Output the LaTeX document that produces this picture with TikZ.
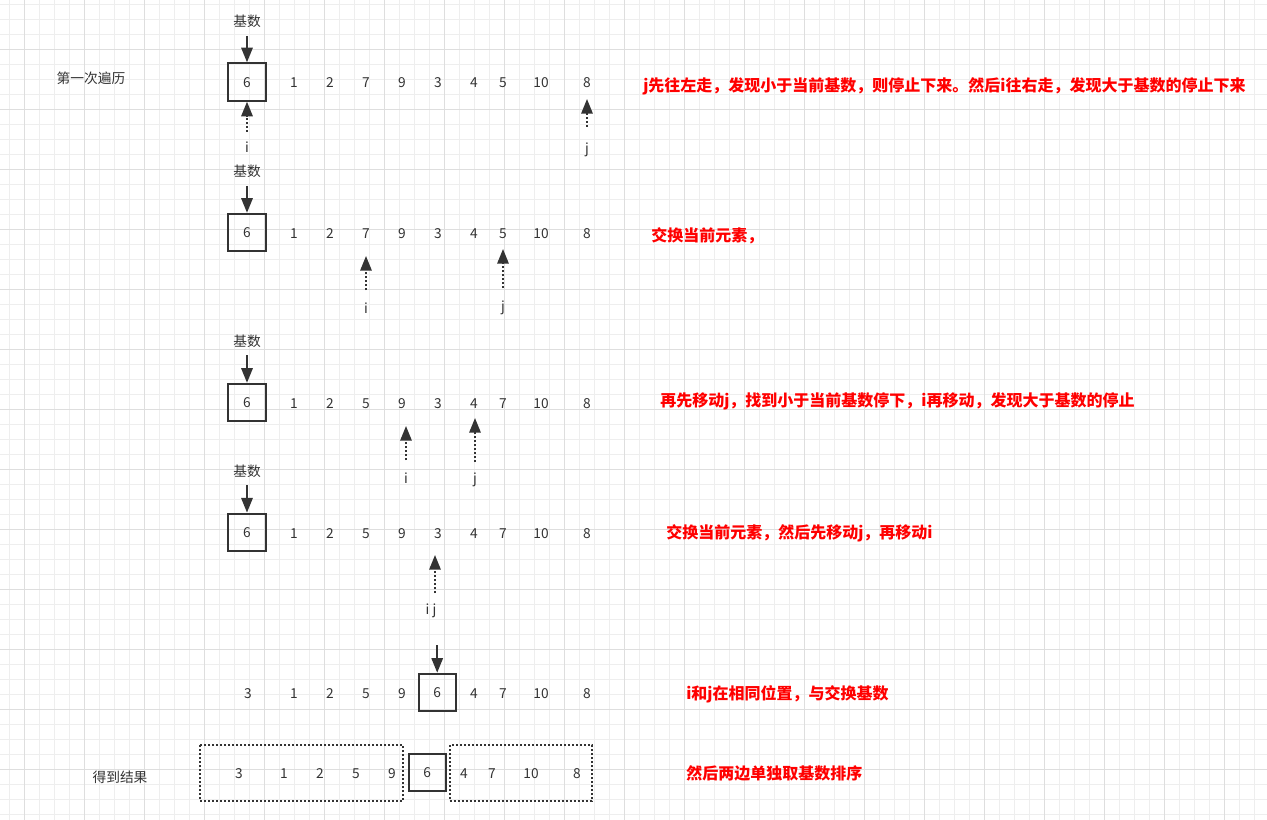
\documentclass[tikz,border=0pt]{standalone}
\usepackage{fontspec}
\setmainfont{Noto Sans CJK SC}
\usetikzlibrary{arrows.meta}
\definecolor{ink}{HTML}{333333}
\definecolor{gmin}{HTML}{EEEEEE}
\definecolor{gmaj}{HTML}{DEDEDE}
\begin{document}
\begin{tikzpicture}[x=0.75pt,y=-0.75pt,
  txt/.style={text=ink,font=\fontsize{10.3}{12}\selectfont,inner sep=0pt,text height=7.6pt,text depth=0pt},
  pivot/.style={draw=ink,line width=1.5pt,minimum width=28pt,minimum height=28pt,inner sep=0pt,txt},
  note/.style={text=red,font=\fontsize{12}{14}\selectfont\bfseries,anchor=west,inner sep=0pt},
  arr/.style={draw=ink,line width=1.5pt,-{Triangle[length=11pt,width=8.5pt]}},
  darr/.style={arr,dash pattern=on 1.5pt off 1.5pt},
  dbox/.style={draw=ink,line width=1.5pt,dash pattern=on 1.5pt off 1.5pt},
  gminor/.style={draw=gmin,line width=0.75pt},
  gmajor/.style={draw=gmaj,line width=0.75pt},
]
\fill[white] (0,0) rectangle (1267,820);
\useasboundingbox (0,0) rectangle (1267,820);
% grid
\foreach \k in {0,...,84} {\draw[gminor] (9.3+15*\k,0) -- (9.3+15*\k,820);}
\foreach \k in {0,...,54} {\draw[gminor] (0,4.3+15*\k) -- (1267,4.3+15*\k);}
\foreach \k in {0,...,20} {\draw[gmajor] (24.3+60*\k,0) -- (24.3+60*\k,820);}
\foreach \k in {0,...,12} {\draw[gmajor] (0,49.3+60*\k) -- (1267,49.3+60*\k);}

% side labels
\node[txt] (first) at (91,78) {第一次遍历};
\node[txt] (result) at (120,777) {得到结果};

% row 1
\node[txt] (k1) at (247,21) {基数};
\coordinate (k1a) at (247,36);
\node[pivot] (p1) at (247,82) {6};
\foreach \v/\x [count=\k] in {1/294,2/330,7/366,9/402,3/438,4/474,5/503,10/541,8/587}
  {\node[txt] (r1-\k) at (\x,82) {\v};}
\draw[arr] (k1a) -- (p1.north);
\coordinate (i1) at (247,132);
\draw[darr] (i1) -- (p1.south);
\node[txt] (i1l) at (247,147) {i};
\coordinate (j1) at (587,127);
\coordinate (j1t) at (587,99);
\draw[darr] (j1) -- (j1t);
\node[txt] (j1l) at (587,148) {j};
\node[note] (n1) at (643,86) {j先往左走，发现小于当前基数，则停止下来。然后i往右走，发现大于基数的停止下来};

% row 2
\node[txt] (k2) at (247,171.5) {基数};
\coordinate (k2a) at (247,186);
\node[pivot] (p2) at (247,232.5) {6};
\foreach \v/\x [count=\k] in {1/294,2/330,7/366,9/402,3/438,4/474,5/503,10/541,8/587}
  {\node[txt] (r2-\k) at (\x,233) {\v};}
\draw[arr] (k2a) -- (p2.north);
\coordinate (i2) at (366,290);
\coordinate (i2t) at (366,256);
\draw[darr] (i2) -- (i2t);
\node[txt] (i2l) at (366,308) {i};
\coordinate (j2) at (503,288);
\coordinate (j2t) at (503,249);
\draw[darr] (j2) -- (j2t);
\node[txt] (j2l) at (503,306) {j};
\node[note] (n2) at (651,236) {交换当前元素，};

% row 3
\node[txt] (k3) at (247,341.5) {基数};
\coordinate (k3a) at (247,355);
\node[pivot] (p3) at (247,402.5) {6};
\foreach \v/\x [count=\k] in {1/294,2/330,5/366,9/402,3/438,4/474,7/503,10/541,8/587}
  {\node[txt] (r3-\k) at (\x,403) {\v};}
\draw[arr] (k3a) -- (p3.north);
\coordinate (i3) at (406,460);
\coordinate (i3t) at (406,426);
\draw[darr] (i3) -- (i3t);
\node[txt] (i3l) at (406,478) {i};
\coordinate (j3) at (475,462);
\coordinate (j3t) at (475,418);
\draw[darr] (j3) -- (j3t);
\node[txt] (j3l) at (475,478) {j};
\node[note] (n3) at (660,401) {再先移动j，找到小于当前基数停下，i再移动，发现大于基数的停止};

% row 4
\node[txt] (k4) at (247,471.5) {基数};
\coordinate (k4a) at (247,485);
\node[pivot] (p4) at (247,532.3) {6};
\foreach \v/\x [count=\k] in {1/294,2/330,5/366,9/402,3/438,4/474,7/503,10/541,8/587}
  {\node[txt] (r4-\k) at (\x,533) {\v};}
\draw[arr] (k4a) -- (p4.north);
\coordinate (ij4) at (435,593);
\coordinate (ij4t) at (435,555);
\draw[darr] (ij4) -- (ij4t);
\node[txt] (ij4l) at (431,609) {i j};
\node[note] (n4) at (666,533) {交换当前元素，然后先移动j，再移动i};

% row 5
\foreach \v/\x [count=\k] in {3/248,1/294,2/330,5/366,9/402}
  {\node[txt] (r5a-\k) at (\x,693) {\v};}
\node[pivot] (p5) at (437.2,692.4) {6};
\foreach \v/\x [count=\k] in {4/474,7/503,10/541,8/587}
  {\node[txt] (r5b-\k) at (\x,693) {\v};}
\coordinate (k5a) at (437.2,645);
\draw[arr] (k5a) -- (p5.north);
\node[note] (n5) at (686,694) {i和j在相同位置，与交换基数};

% row 6
\draw[dbox] (200,745) rectangle (403,801);
\draw[dbox] (449.5,745) rectangle (591.5,801);
\foreach \v/\x [count=\k] in {3/239,1/284,2/320,5/356,9/392}
  {\node[txt] (r6a-\k) at (\x,773) {\v};}
\node[pivot] (p6) at (427.2,772.3) {6};
\foreach \v/\x [count=\k] in {4/464,7/492,10/531,8/577}
  {\node[txt] (r6b-\k) at (\x,773) {\v};}
\node[note] (n6) at (686,773) {然后两边单独取基数排序};
\end{tikzpicture}
\end{document}
